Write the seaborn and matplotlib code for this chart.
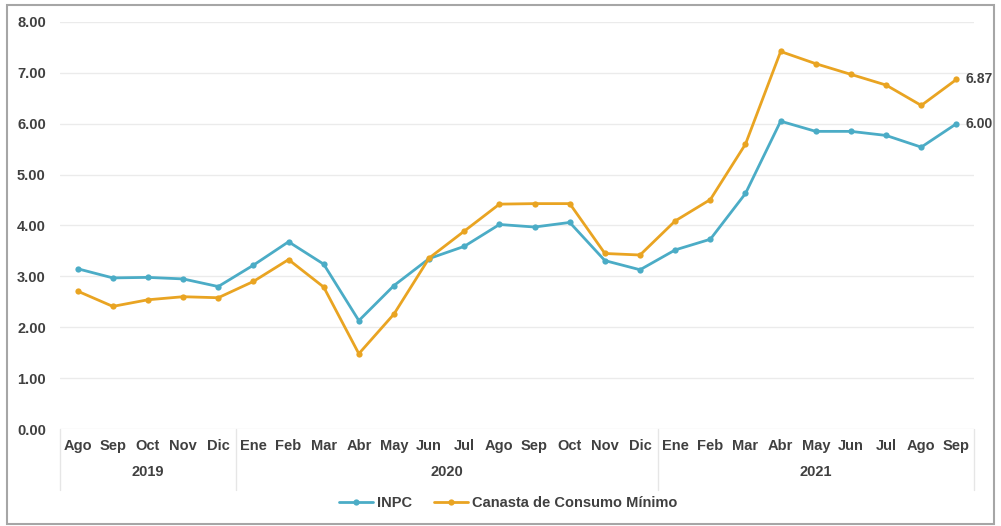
import numpy as np
import pandas as pd
import matplotlib
matplotlib.use("Agg")
import matplotlib.pyplot as plt
from matplotlib.patches import Rectangle
from matplotlib.lines import Line2D
import seaborn as sns

# Monthly annual variation (%), Aug 2019 - Sep 2021
meses = ["Ago", "Sep", "Oct", "Nov", "Dic",
         "Ene", "Feb", "Mar", "Abr", "May", "Jun", "Jul", "Ago", "Sep", "Oct", "Nov", "Dic",
         "Ene", "Feb", "Mar", "Abr", "May", "Jun", "Jul", "Ago", "Sep"]
anios = ["2019", "2020", "2021"]
meses_por_anio = [5, 12, 9]

inpc = [3.15, 2.97, 2.98, 2.95, 2.80,
        3.22, 3.68, 3.24, 2.13, 2.82, 3.35, 3.59, 4.02, 3.97, 4.06, 3.31, 3.13,
        3.52, 3.73, 4.63, 6.05, 5.85, 5.85, 5.77, 5.54, 6.00]
canasta = [2.71, 2.41, 2.54, 2.60, 2.58,
           2.90, 3.33, 2.79, 1.48, 2.26, 3.36, 3.89, 4.42, 4.43, 4.43, 3.45, 3.42,
           4.09, 4.51, 5.60, 7.42, 7.18, 6.97, 6.76, 6.36, 6.87]
series = ["INPC", "Canasta de Consumo Mínimo"]
colores = ["#4BACC6", "#E9A422"]
yticks = [0, 1, 2, 3, 4, 5, 6, 7, 8]

sns.set_theme(style="white")
plt.rcParams["font.family"] = ["Liberation Sans", "DejaVu Sans"]
texto = "#404040"
fs = 10.5

n = len(meses)
df = pd.DataFrame({
    "idx": list(range(n)) * 2,
    "valor": inpc + canasta,
    "serie": [series[0]] * n + [series[1]] * n,
})

fig = plt.figure(figsize=(10.01, 5.26), dpi=100)
ax = fig.add_axes([0.060, 0.1844, 0.913, 0.7738])

sns.lineplot(data=df, x="idx", y="valor", hue="serie", palette=colores,
             marker="o", markersize=4.5, markeredgewidth=0, linewidth=2.0,
             legend=False, ax=ax)

ax.set_xlim(-0.5, n - 0.5)
ax.set_ylim(0, 8)
ax.set_yticks(yticks)
ax.set_yticklabels([f"{v:.2f}" for v in yticks], fontsize=fs,
                   fontweight="bold", color=texto, ha="left")
ax.tick_params(axis="y", length=0, pad=31)
ax.yaxis.grid(True, color="#EBEBEB", linewidth=1.0)
ax.set_axisbelow(True)
for s in ax.spines.values():
    s.set_visible(False)
ax.set_xticks(range(n))
ax.set_xticklabels(meses, fontsize=fs, fontweight="bold", color=texto)
ax.tick_params(axis="x", length=0, pad=7)
ax.set_xlabel("")
ax.set_ylabel("")

# Year groups under the month labels
trans = ax.get_xaxis_transform()
inicio = 0
bordes = [-0.5]
for anio, k in zip(anios, meses_por_anio):
    centro = inicio + (k - 1) / 2
    ax.text(centro, -0.106, anio, transform=trans, ha="center", va="center",
            fontsize=fs, fontweight="bold", color=texto)
    inicio += k
    bordes.append(inicio - 0.5)
for b in bordes:
    ax.add_line(Line2D([b, b], [0, -0.15], transform=trans, color="#E6E6E6",
                       linewidth=1.0, clip_on=False))

# End-point labels
ax.text(n - 1 + 0.27, canasta[-1], f"{canasta[-1]:.2f}", ha="left", va="center",
        fontsize=fs - 0.5, fontweight="bold", color=texto)
ax.text(n - 1 + 0.27, inpc[-1], f"{inpc[-1]:.2f}", ha="left", va="center",
        fontsize=fs - 0.5, fontweight="bold", color=texto)

# Legend
handles = [Line2D([0], [0], color=c, marker="o", markersize=4.5,
                  markeredgewidth=0, linewidth=2.0) for c in colores]
fig.legend(handles, series, loc="center", bbox_to_anchor=(0.508, 0.043),
           ncol=2, frameon=False, handlelength=2.3, columnspacing=1.5,
           handletextpad=0.3, prop={"size": fs, "weight": "bold"},
           labelcolor=texto)

# Outer chart frame
fig.patches.append(Rectangle((0.007, 0.004), 0.986, 0.986, transform=fig.transFigure,
                             fill=False, edgecolor="#A6A6A6", linewidth=1.5))

fig.savefig("out.png", dpi=100, facecolor="white")
